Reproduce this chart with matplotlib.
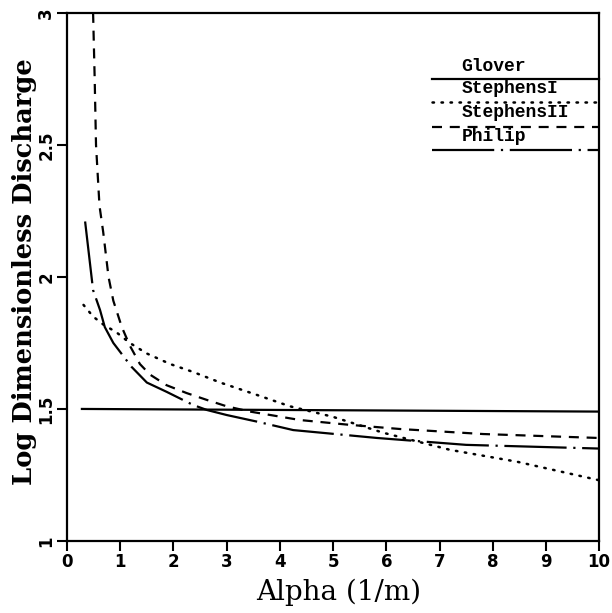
import matplotlib
matplotlib.use("Agg")
import matplotlib.pyplot as plt

# Data
glover_x = [0.28, 10.0]
glover_y = [1.50, 1.49]

steph1_x = [0.31, 0.49, 0.68, 0.93, 1.18, 1.5, 1.94, 2.37, 2.88, 3.57, 4.19, 5.0, 5.94, 7.2, 8.46, 10.0]
steph1_y = [1.894, 1.85, 1.82, 1.79, 1.75, 1.71, 1.67, 1.64, 1.60, 1.553, 1.51, 1.47, 1.41, 1.345, 1.30, 1.23]

steph2_x = [0.49, 0.52, 0.545, 0.61, 0.68, 0.78, 0.87, 1.03, 1.18, 1.37, 1.56, 1.87, 2.25, 2.63, 3.0, 3.44, 4.38, 5.3, 6.26, 7.82, 10.0]
steph2_y = [3.0, 2.75, 2.5, 2.27, 2.17, 2.0, 1.91, 1.81, 1.74, 1.67, 1.63, 1.59, 1.56, 1.534, 1.51, 1.49, 1.458, 1.44, 1.424, 1.405, 1.39]

philip_x = [0.34, 0.49, 0.62, 0.71, 0.87, 1.21, 1.5, 1.87, 2.37, 2.63, 3.0, 3.57, 4.25, 5.83, 7.5, 10.0]
philip_y = [2.21, 1.95, 1.875, 1.81, 1.75, 1.66, 1.60, 1.565, 1.515, 1.496, 1.477, 1.452, 1.42, 1.39, 1.364, 1.35]

x_ticks = [0, 1, 2, 3, 4, 5, 6, 7, 8, 9, 10]
y_ticks = [1, 1.5, 2, 2.5, 3]
y_labels = ["1", "1.5", "2", "2.5", "3"]

names = ["Glover", "StephensI", "StephensII", "Philip"]


def main():
    fig = plt.figure(figsize=(6.12, 6.13), dpi=100)
    ax = fig.add_axes([0.1095, 0.1175, 0.8695, 0.8615])

    lw = 1.6
    styles = [
        dict(linestyle="-", lw=lw),
        dict(linestyle=(0, (0.6, 3.0)), dash_capstyle="round", lw=1.8),
        dict(linestyle=(0, (4.5, 3.5)), lw=lw),
        dict(linestyle=(0, (28, 3, 1, 3)), lw=lw),
    ]
    series = [(glover_x, glover_y), (steph1_x, steph1_y),
              (steph2_x, steph2_y), (philip_x, philip_y)]

    for (xs, ys), st in zip(series, styles):
        ax.plot(xs, ys, color="black", **st)

    ax.set_xlim(0, 10)
    ax.set_ylim(1, 3)
    ax.set_xticks(x_ticks)
    ax.set_xticklabels([str(t) for t in x_ticks], fontsize=12,
                       fontweight="bold", family="DejaVu Sans")
    ax.set_yticks(y_ticks)
    ax.set_yticklabels(y_labels, fontsize=12, fontweight="bold",
                       rotation=90, va="center", family="DejaVu Sans")
    ax.tick_params(direction="out", length=7, width=1.5, pad=1.5)
    for s in ax.spines.values():
        s.set_linewidth(1.6)

    ax.set_xlabel("Alpha (1/m)", fontsize=20, family="DejaVu Serif")
    ax.xaxis.set_label_coords(0.51, -0.072)
    ax.set_ylabel("Log Dimensionless Discharge", fontsize=18.5,
                  fontweight="bold", family="DejaVu Serif")
    ax.yaxis.set_label_coords(-0.056, 0.51)

    # legend: label above a line sample
    text_y = [0.898, 0.856, 0.811, 0.765]
    line_y = [0.875, 0.831, 0.784, 0.741]
    for name, st, ty, ly in zip(names, styles, text_y, line_y):
        ax.text(0.741, ty, name, transform=ax.transAxes, fontsize=13,
                fontweight="bold", family="Liberation Mono", va="center")
        ax.plot([0.686, 1.0], [ly, ly], transform=ax.transAxes,
                color="black", clip_on=False, **st)

    fig.savefig("out.png", dpi=100)
    plt.close(fig)


if __name__ == "__main__":
    main()
